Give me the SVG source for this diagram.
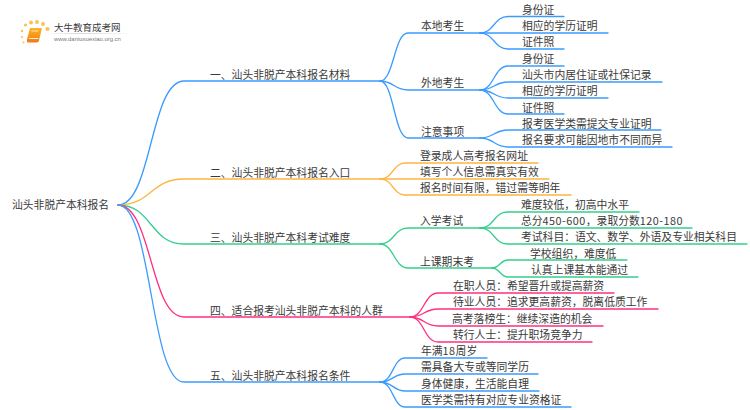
<svg xmlns="http://www.w3.org/2000/svg" width="750" height="410" viewBox="0 0 750 410">
<style>
text{font-family:"Noto Sans CJK SC","Noto Sans",sans-serif;font-size:10.8px;fill:#3a3a3a}
.d{letter-spacing:.5px}
#connectors path{fill:none;stroke-width:1.3;stroke-linecap:round}
.b{stroke:#3a9bff}.o{stroke:#fdb544}.g{stroke:#33cf8c}.p{stroke:#ff2f80}
</style>
<defs><linearGradient id="fade"><stop offset="0" stop-color="#ccc" stop-opacity="0"/><stop offset=".4" stop-color="#ccc"/><stop offset="1" stop-color="#ccc" stop-opacity="0"/></linearGradient>
<linearGradient id="bk" x1="0" y1="0" x2="0" y2="1"><stop offset="0" stop-color="#fdb42a"/><stop offset="1" stop-color="#ee7c12"/></linearGradient></defs>
<rect width="750" height="410" fill="#fff"/>
<g id="logo">
<g fill="#fbc050"><circle cx="25.500" cy="25" r="1.500"/><circle cx="31" cy="22.500" r="1.900"/><circle cx="37" cy="22" r="1.900"/><circle cx="43" cy="24" r="1.900"/><circle cx="47.500" cy="29" r="2.100"/><circle cx="22" cy="31" r="1.200"/><circle cx="22" cy="37" r="1.100"/><circle cx="23.500" cy="42.500" r="1"/></g>
<path d="M30,28H42L39,40.500Q38.500,42.500 37,42.500H28Q26.500,42 27,39.500Z" fill="url(#bk)"/>
<path d="M29,38.500H38.500" stroke="#fff" stroke-width=".8" fill="none"/>
<path d="M31.500,31H38" stroke="#ffe2a8" stroke-width="1" fill="none"/>
<rect x="45" y="33" width="88" height=".8" fill="url(#fade)"/>
<text x="54" y="31" style="font-size:9.500px">大牛教育成考网</text>
<text x="54" y="41" style="font-family:'Liberation Sans',sans-serif;font-size:5.900px;fill:#777">www.daniuxuexiao.org.cn</text>
</g>
<g id="connectors">
<path class="b" d="M118,205C152,205 150,81 184,81H380"/>
<path class="o" d="M118,205C152,205 150,179 184,179H380"/>
<path class="g" d="M118,205C152,205 150,244 184,244H380"/>
<path class="p" d="M118,205C152,205 150,317 184,317H410"/>
<path class="b" d="M118,205C152,205 150,382 184,382H380"/>
<path class="b" d="M380,81C394,81 394,33 408,33H480"/>
<path class="b" d="M380,81C394,81 394,90 408,90H480"/>
<path class="b" d="M380,81C394,81 394,138 408,138H480"/>
<path class="b" d="M480,33C494,33 494,16.500 508,16.500H564"/>
<path class="b" d="M480,33H608"/>
<path class="b" d="M480,33C494,33 494,49 508,49H564"/>
<path class="b" d="M480,90C494,90 494,66 508,66H564"/>
<path class="b" d="M480,90C494,90 494,82 508,82H662"/>
<path class="b" d="M480,90C494,90 494,98 508,98H608"/>
<path class="b" d="M480,90C494,90 494,114 508,114H564"/>
<path class="b" d="M480,138C494,138 494,130 508,130H661"/>
<path class="b" d="M480,138C494,138 494,147 508,147H672"/>
<path class="o" d="M380,179C393,179 393,163 405,163H538"/>
<path class="o" d="M380,179H549"/>
<path class="o" d="M380,179C393,179 393,195 405,195H571"/>
<path class="g" d="M380,244C394,244 394,228 408,228H480"/>
<path class="g" d="M380,244C394,244 394,268 408,268H492"/>
<path class="g" d="M480,228C494,228 494,212 507,212H639"/>
<path class="g" d="M480,228H692"/>
<path class="g" d="M480,228C494,228 494,244 507,244H747"/>
<path class="g" d="M492,268C500,268 500,260 508,260H627"/>
<path class="g" d="M492,268C500,268 500,277 508,277H638"/>
<path class="p" d="M410,317C424,317 424,293 438,293H614"/>
<path class="p" d="M410,317C424,317 424,309 438,309H658"/>
<path class="p" d="M410,317C424,317 424,326 438,326H603"/>
<path class="p" d="M410,317C424,317 424,342 438,342H592"/>
<path class="b" d="M380,382C393,382 393,358 405,358H487"/>
<path class="b" d="M380,382C393,382 393,374 405,374H538"/>
<path class="b" d="M380,382C393,382 393,391 405,391H539"/>
<path class="b" d="M380,382C393,382 393,407 405,407H571"/>
</g>
<g id="root"><text x="12" y="209">汕头非脱产本科报名</text></g>
<g id="n1"><text x="210" y="79">一、汕头非脱产本科报名材料</text></g>
<g id="n1-1"><text x="421" y="30">本地考生</text></g>
<g id="n1-1-1"><text x="522" y="14">身份证</text></g>
<g id="n1-1-2"><text x="522" y="30">相应的学历证明</text></g>
<g id="n1-1-3"><text x="522" y="46">证件照</text></g>
<g id="n1-2"><text x="421" y="87">外地考生</text></g>
<g id="n1-2-1"><text x="522" y="63">身份证</text></g>
<g id="n1-2-2"><text x="522" y="79">汕头市内居住证或社保记录</text></g>
<g id="n1-2-3"><text x="522" y="95">相应的学历证明</text></g>
<g id="n1-2-4"><text x="522" y="112">证件照</text></g>
<g id="n1-3"><text x="421" y="136">注意事项</text></g>
<g id="n1-3-1"><text x="522" y="128">报考医学类需提交专业证明</text></g>
<g id="n1-3-2"><text x="522" y="144">报名要求可能因地市不同而异</text></g>
<g id="n2"><text x="210" y="177">二、汕头非脱产本科报名入口</text></g>
<g id="n2-1"><text x="420" y="160">登录成人高考报名网址</text></g>
<g id="n2-2"><text x="420" y="176">填写个人信息需真实有效</text></g>
<g id="n2-3"><text x="420" y="192">报名时间有限，错过需等明年</text></g>
<g id="n3"><text x="210" y="242">三、汕头非脱产本科考试难度</text></g>
<g id="n3-1"><text x="420" y="225">入学考试</text></g>
<g id="n3-1-1"><text x="521" y="209">难度较低，初高中水平</text></g>
<g id="n3-1-2"><text x="521" y="225">总分<tspan class="d">450-600</tspan>，录取分数<tspan class="d">120-180</tspan></text></g>
<g id="n3-1-3"><text x="521" y="241">考试科目：语文、数学、外语及专业相关科目</text></g>
<g id="n3-2"><text x="420" y="266">上课期末考</text></g>
<g id="n3-2-1"><text x="530" y="258">学校组织，难度低</text></g>
<g id="n3-2-2"><text x="531" y="274">认真上课基本能通过</text></g>
<g id="n4"><text x="210" y="315">四、适合报考汕头非脱产本科的人群</text></g>
<g id="n4-1"><text x="453" y="290">在职人员：希望晋升或提高薪资</text></g>
<g id="n4-2"><text x="453" y="306">待业人员：追求更高薪资，脱离低质工作</text></g>
<g id="n4-3"><text x="452" y="323">高考落榜生：继续深造的机会</text></g>
<g id="n4-4"><text x="453" y="339">转行人士：提升职场竞争力</text></g>
<g id="n5"><text x="210" y="380">五、汕头非脱产本科报名条件</text></g>
<g id="n5-1"><text x="421" y="355">年满<tspan class="d">18</tspan>周岁</text></g>
<g id="n5-2"><text x="421" y="371">需具备大专或等同学历</text></g>
<g id="n5-3"><text x="421" y="388">身体健康，生活能自理</text></g>
<g id="n5-4"><text x="421" y="404">医学类需持有对应专业资格证</text></g>
</svg>
